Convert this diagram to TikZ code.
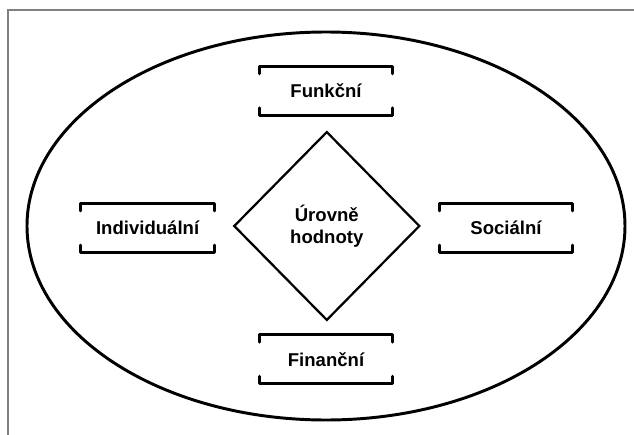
\documentclass[tikz,border=0pt]{standalone}
\usepackage{fontspec}
\setmainfont{Liberation Sans}
\usetikzlibrary{shapes.geometric}
\newlength{\tick}
\setlength{\tick}{0.18cm}
\newcommand{\zavorka}[1]
{
	\draw [okraj] ([yshift=-\tick]#1.north west) -- (#1.north west)
	-- (#1.north east) -- ([yshift=-\tick]#1.north east);
	\draw [okraj] ([yshift=\tick]#1.south west) -- (#1.south west)
	-- (#1.south east) -- ([yshift=\tick]#1.south east);
}
\tikzset{
	okraj/.style={line width=2.2pt,line cap=round,line join=round},
	pismo/.style={font=\fontsize{13.2}{15.6}\selectfont\bfseries},
	hodnota/.style={pismo,minimum width=3.32cm,minimum height=1.2cm,inner sep=0pt}
}

\begin{document}
\begin{tikzpicture}
	\useasboundingbox (-8.15,-5.2) rectangle (7.7,5.65);
	\draw [gray,line width=1.2pt] (-7.95,-5.3) |- (7.8,5.4);
	\draw [line width=2.1pt] (0,0) ellipse (7.475 and 4.85);
	\node[draw,diamond,pismo,line width=1.6pt,minimum width=4.65cm,minimum height=4.72cm,
		inner sep=0pt,align=center] (uroven) at (0.02,0) {Úrovně\\hodnoty};
	\node[hodnota] (fun) at (0,3.38) {Funkční};
	\node[hodnota] (fin) at (0,-3.33) {Finanční};
	\node[hodnota] (ind) at (-4.46,-0.05) {Individuální};
	\node[hodnota] (soc) at (4.5,-0.05) {Sociální};
	\zavorka{fun}
	\zavorka{fin}
	\zavorka{ind}
	\zavorka{soc}
\end{tikzpicture}
\end{document}
